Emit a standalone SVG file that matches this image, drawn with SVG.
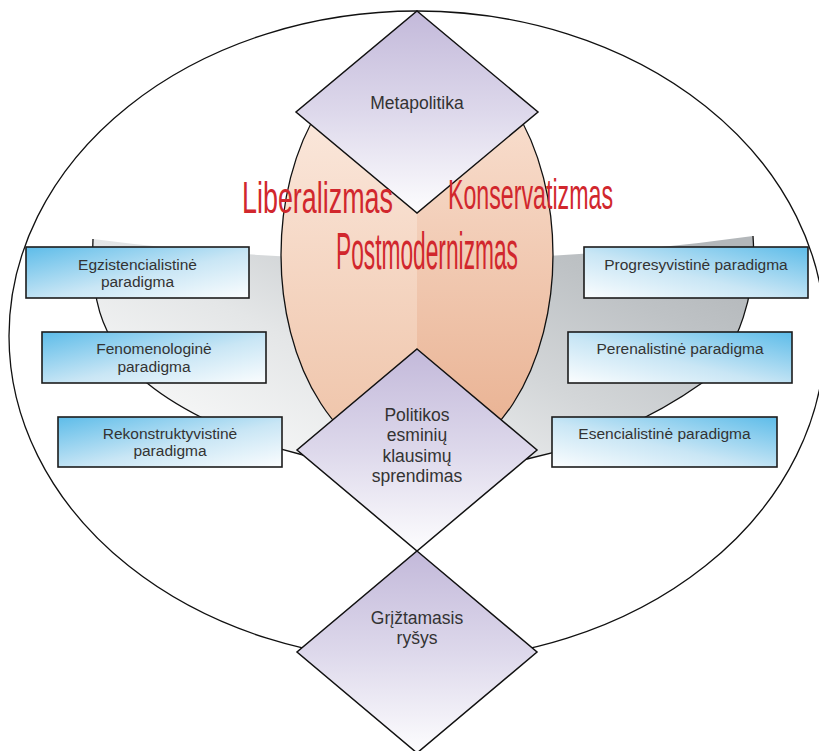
<svg xmlns="http://www.w3.org/2000/svg" width="819" height="751" viewBox="0 0 819 751">
  <defs>
    <linearGradient id="gDiamond" x1="0" y1="0" x2="0" y2="1">
      <stop offset="0" stop-color="#c3b9da"/>
      <stop offset="0.5" stop-color="#ddd8eb"/>
      <stop offset="1" stop-color="#fdfdfe"/>
    </linearGradient>
    <linearGradient id="gBoxL" x1="0" y1="0" x2="1" y2="1">
      <stop offset="0" stop-color="#5dbce9"/>
      <stop offset="0.55" stop-color="#c9e6f5"/>
      <stop offset="1" stop-color="#fbfdfe"/>
    </linearGradient>
    <linearGradient id="gBoxR" x1="1" y1="0" x2="0" y2="1">
      <stop offset="0" stop-color="#5dbce9"/>
      <stop offset="0.55" stop-color="#c9e6f5"/>
      <stop offset="1" stop-color="#fbfdfe"/>
    </linearGradient>
    <linearGradient id="gBowl" x1="0.1" y1="0.7" x2="0.95" y2="0.1">
      <stop offset="0" stop-color="#f4f5f5"/>
      <stop offset="0.3" stop-color="#e4e6e7"/>
      <stop offset="0.5" stop-color="#d3d6d8"/>
      <stop offset="0.8" stop-color="#bec2c5"/>
      <stop offset="1" stop-color="#b3b7ba"/>
    </linearGradient>
    <linearGradient id="gPeachL" x1="0" y1="0" x2="0" y2="1">
      <stop offset="0" stop-color="#fdefe6"/>
      <stop offset="1" stop-color="#eec1a5"/>
    </linearGradient>
    <linearGradient id="gPeachR" x1="0" y1="0" x2="0" y2="1">
      <stop offset="0" stop-color="#fbe7da"/>
      <stop offset="1" stop-color="#e8ae8d"/>
    </linearGradient>
  </defs>
  <style>
    .outline { fill: none; stroke: #111; stroke-width: 1.3; }
    .diamond { fill: url(#gDiamond); stroke: #111; stroke-width: 1.5; stroke-linejoin: miter; }
    .box { stroke: #1c1c1c; stroke-width: 1.6; }
    .boxL { fill: url(#gBoxL); }
    .boxR { fill: url(#gBoxR); }
    .lbl { font-family: "Liberation Sans", Arial, sans-serif; font-size: 15.5px; fill: #333; text-anchor: middle; }
    .dlbl { font-family: "Liberation Sans", Arial, sans-serif; font-size: 17.5px; fill: #333; text-anchor: middle; }
    .big { font-family: "Liberation Sans", Arial, sans-serif; fill: #d1272d; }
  </style>

  <!-- outer ring -->
  <ellipse class="outline" cx="417" cy="336" rx="408" ry="325"/>

  <!-- grey bowl behind the central ellipse -->
  <g id="bowl">
    <path d="M93,239 Q423,282 753,236 C757,290 740,350 702,383 C650,420 590,445 527,459 C470,476 360,472 303,455 C240,440 180,410 147,383 C95,335 91,290 93,239 Z" fill="url(#gBowl)"/>
    <path class="outline" d="M93,239 C91,290 95,335 147,383 C180,410 240,440 303,455 C360,472 470,476 527,459 C590,445 650,420 702,383 C740,350 757,290 753,236"/>
  </g>

  <!-- central two-tone ellipse -->
  <g id="core">
    <path d="M417,45 A136,210 0 0 0 417,465 Z" fill="url(#gPeachL)"/>
    <path d="M417,45 A136,210 0 0 1 417,465 Z" fill="url(#gPeachR)"/>
    <ellipse class="outline" cx="417" cy="255" rx="136" ry="210"/>
  </g>

  <!-- connectors: none beyond the shape outlines -->
  <g id="connectors"/>

  <g id="metapolitika">
    <path class="diamond" d="M417,11 L538,112 L417,213 L296,112 Z"/>
    <text class="dlbl" x="417" y="109">Metapolitika</text>
  </g>

  <g id="politikos">
    <path class="diamond" d="M417,349 L537,450 L417,551 L297,450 Z"/>
    <text class="dlbl" x="417" y="420.5">Politikos</text>
    <text class="dlbl" x="417" y="441">esminių</text>
    <text class="dlbl" x="417" y="461.5">klausimų</text>
    <text class="dlbl" x="417" y="482">sprendimas</text>
  </g>

  <g id="griztamasis">
    <path class="diamond" d="M417,551 L537,652 L417,753 L297,652 Z"/>
    <text class="dlbl" x="417" y="624">Grįžtamasis</text>
    <text class="dlbl" x="417" y="644">ryšys</text>
  </g>

  <g id="egzistencialistine">
    <rect class="box boxL" x="26" y="247" width="223" height="51"/>
    <text class="lbl" x="137.5" y="269.5">Egzistencialistinė</text>
    <text class="lbl" x="137.5" y="287">paradigma</text>
  </g>
  <g id="fenomenologine">
    <rect class="box boxL" x="42" y="332" width="224" height="51"/>
    <text class="lbl" x="154" y="354">Fenomenologinė</text>
    <text class="lbl" x="154" y="371.5">paradigma</text>
  </g>
  <g id="rekonstruktyvistine">
    <rect class="box boxL" x="58" y="417" width="224" height="50"/>
    <text class="lbl" x="170" y="438.5">Rekonstruktyvistinė</text>
    <text class="lbl" x="170" y="456">paradigma</text>
  </g>
  <g id="progresyvistine">
    <rect class="box boxR" x="584" y="247" width="224" height="51"/>
    <text class="lbl" x="696" y="269.5">Progresyvistinė paradigma</text>
  </g>
  <g id="perenalistine">
    <rect class="box boxR" x="568" y="332" width="224" height="51"/>
    <text class="lbl" x="680" y="354">Perenalistinė paradigma</text>
  </g>
  <g id="esencialistine">
    <rect class="box boxR" x="552" y="417" width="225" height="50"/>
    <text class="lbl" x="664.5" y="438.5">Esencialistinė paradigma</text>
  </g>

  <!-- tall condensed headings: narrowed with a horizontal scale -->
  <g id="ideologies">
    <text class="big" transform="translate(242,212.5) scale(0.598,1)" font-size="45">Liberalizmas</text>
    <text class="big" transform="translate(448,208.5) scale(0.546,1)" font-size="42.5">Konservatizmas</text>
    <text class="big" transform="translate(336,268.5) scale(0.446,1)" font-size="51">Postmodernizmas</text>
  </g>
</svg>
